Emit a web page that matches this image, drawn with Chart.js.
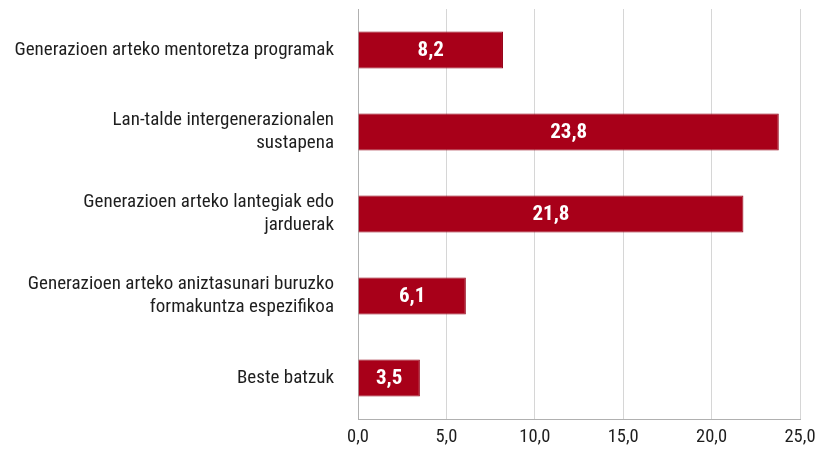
<!DOCTYPE html>
<html>
<head>
<meta charset="utf-8">
<script src="https://cdn.jsdelivr.net/npm/chart.js@4.4.1/dist/chart.umd.min.js"></script>
<style>
    html, body { margin: 0; padding: 0; background: #fff; }
    #wrap { width: 819px; height: 452px; }
</style>
</head>
<body>
<div id="wrap"><canvas id="barChart"></canvas></div>
<script>
// Categories (multi-line where the label wraps) and their values
const categories = [
    'Generazioen arteko mentoretza programak',
    ['Lan-talde intergenerazionalen', 'sustapena'],
    ['Generazioen arteko lantegiak edo', 'jarduerak'],
    ['Generazioen arteko aniztasunari buruzko', 'formakuntza espezifikoa'],
    'Beste batzuk'
];
const values = [8.2, 23.8, 21.8, 6.1, 3.5];
const xTicks = [0, 5, 10, 15, 20, 25];

const FONT = '"Roboto Condensed", "Roboto", sans-serif';
const BAR_COLOR = '#a80019';

// Format numbers with a decimal comma
function formatComma(v) {
    return Number(v).toFixed(1).replace('.', ',');
}

// Draw the value inside each bar
const valueLabels = {
    id: 'valueLabels',
    afterDatasetsDraw(chart) {
        const ctx = chart.ctx;
        const meta = chart.getDatasetMeta(0);
        ctx.save();
        ctx.fillStyle = '#ffffff';
        ctx.font = 'bold 21px ' + FONT;
        ctx.textAlign = 'center';
        ctx.textBaseline = 'middle';
        meta.data.forEach((bar, i) => {
            ctx.fillText(formatComma(values[i]), (bar.base + bar.x) / 2, bar.y + 1);
        });
        ctx.restore();
    }
};

const ctx = document.getElementById('barChart').getContext('2d');

new Chart(ctx, {
    type: 'bar',
    data: {
        labels: categories,
        datasets: [{
            data: values,
            backgroundColor: BAR_COLOR,
            borderColor: '#940016',
            borderWidth: 1,
            barPercentage: 0.45,
            categoryPercentage: 1
        }]
    },
    options: {
        indexAxis: 'y',
        responsive: true,
        maintainAspectRatio: false,
        animation: false,
        layout: {
            autoPadding: false,
            padding: { top: 9, right: 19, left: 0, bottom: 0 }
        },
        plugins: {
            legend: { display: false },
            tooltip: { enabled: false }
        },
        scales: {
            x: {
                min: 0,
                max: 25,
                afterBuildTicks(axis) {
                    axis.ticks = xTicks.map(v => ({ value: v }));
                },
                afterFit(axis) {
                    axis.height = 33;
                    axis.paddingLeft = 0;
                    axis.paddingRight = 0;
                },
                ticks: {
                    color: '#1e1e1e',
                    padding: 7,
                    font: { family: FONT, size: 18.5 },
                    callback: v => formatComma(v)
                },
                grid: {
                    color: '#d6d6d6',
                    lineWidth: 1,
                    drawTicks: false
                },
                border: { display: true, color: '#b0b0b0', width: 1 }
            },
            y: {
                afterFit(axis) {
                    axis.width = 358;
                    axis.paddingTop = 0;
                    axis.paddingBottom = 0;
                },
                ticks: {
                    color: '#1e1e1e',
                    padding: 24,
                    font: { family: FONT, size: 19, lineHeight: 1.2 }
                },
                grid: { display: false, drawTicks: false },
                border: { display: true, color: '#b0b0b0', width: 1 }
            }
        }
    },
    plugins: [valueLabels]
});
</script>
</body>
</html>
